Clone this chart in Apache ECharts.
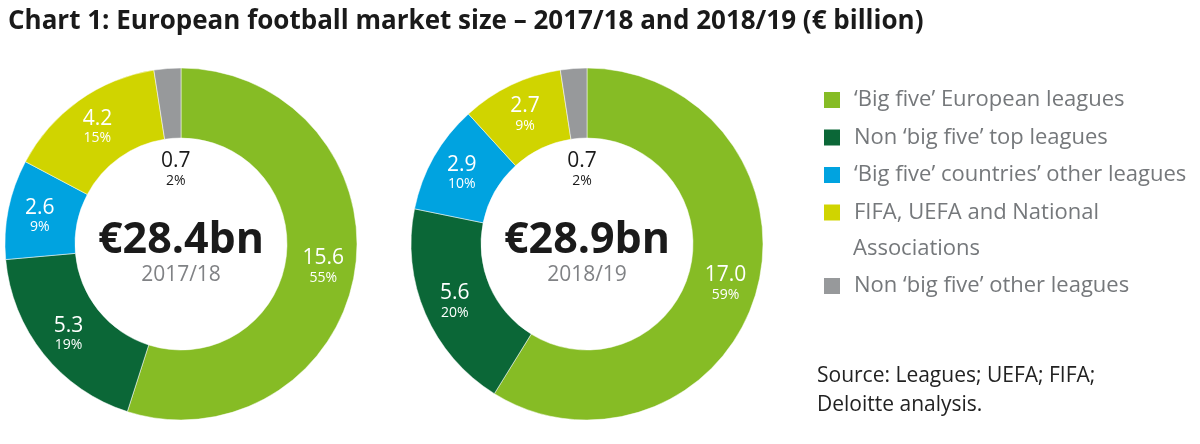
<!DOCTYPE html>
<html>
<head>
<meta charset="utf-8">
<script src="https://cdn.jsdelivr.net/npm/echarts@6/dist/echarts.min.js"></script>
<style>
  html, body { margin: 0; padding: 0; background: #fff; }
  #chart { width: 1200px; height: 444px; }
</style>
</head>
<body>
<div id="chart"></div>
<script>
// chart data
const categories = [
  '\u2018Big five\u2019 European leagues',
  'Non \u2018big five\u2019 top leagues',
  '\u2018Big five\u2019 countries\u2019 other leagues',
  'FIFA, UEFA and National Associations',
  'Non \u2018big five\u2019 other leagues'
];
const seasons = ['2017/18', '2018/19'];
const values1718 = [15.6, 5.3, 2.6, 4.2, 0.7];
const values1819 = [17.0, 5.6, 2.9, 2.7, 0.7];
const pct1718 = [55, 19, 9, 15, 2];
const pct1819 = [59, 20, 10, 9, 2];

const colors = ['#86BC25', '#0B6737', '#00A3E0', '#D0D400', '#97999B'];
const font = '"Open Sans", sans-serif';

const chart = echarts.init(document.getElementById('chart'));

function makeData(vals, pcts) {
  return vals.map((v, i) => {
    const item = { name: categories[i], value: v, pct: pcts[i] };
    if (i === 4) {
      // the small grey slice gets its label inside the hole
      item.label = {
        offset: [6, 69],
        rich: {
          v: { color: '#1a1a1a', fontSize: 21, fontFamily: font, lineHeight: 23 },
          p: { color: '#1a1a1a', fontSize: 14, fontFamily: font, lineHeight: 16 }
        }
      };
    }
    return item;
  });
}

function makeSeries(vals, pcts, cx) {
  return {
    type: 'pie',
    center: [cx, 244],
    radius: [106, 176],
    startAngle: 90,
    clockwise: true,
    avoidLabelOverlap: false,
    silent: true,
    itemStyle: { borderColor: '#fff', borderWidth: 0.5 },
    label: {
      show: true,
      position: 'inside',
      formatter: p => '{v|' + p.value.toFixed(1) + '}\n{p|' + p.data.pct + '%}',
      rich: {
        v: { color: '#fff', fontSize: 21, fontFamily: font, lineHeight: 23 },
        p: { color: '#fff', fontSize: 14, fontFamily: font, lineHeight: 16 }
      }
    },
    labelLine: { show: false },
    data: makeData(vals, pcts)
  };
}

const total = arr => arr.reduce((a, b) => a + b, 0);

function centerText(cx, vals, season) {
  return [
    {
      type: 'text', x: cx, y: 241, z: 10,
      style: {
        text: '\u20ac' + total(vals).toFixed(1) + 'bn',
        align: 'center', verticalAlign: 'middle',
        font: 'bold 43px ' + font, fill: '#1a1a1a'
      }
    },
    {
      type: 'text', x: cx, y: 275, z: 10,
      style: {
        text: season, align: 'center', verticalAlign: 'middle',
        font: '21px ' + font, fill: '#808285'
      }
    }
  ];
}

chart.setOption({
  color: colors,
  animation: false,
  title: {
    text: 'Chart 1: European football market size \u2013 2017/18 and 2018/19 (\u20ac billion)',
    left: 3, top: 4,
    textStyle: { fontFamily: font, fontWeight: 'bold', fontSize: 26, color: '#1a1a1a' }
  },
  legend: [
    {
      orient: 'vertical', left: 817, top: 84,
      itemWidth: 18, itemHeight: 18, itemGap: 15.5,
      icon: 'rect', selectedMode: false,
      data: categories.slice(0, 4),
      formatter: n => n === categories[3] ? 'FIFA, UEFA and National' : n,
      textStyle: { fontFamily: font, fontSize: 22, lineHeight: 22, color: '#75787B', padding: [0, 0, 0, 8] }
    },
    {
      orient: 'vertical', left: 817, top: 270,
      itemWidth: 18, itemHeight: 18,
      icon: 'rect', selectedMode: false,
      data: categories.slice(4),
      textStyle: { fontFamily: font, fontSize: 22, lineHeight: 22, color: '#75787B', padding: [0, 0, 0, 8] }
    }
  ],
  graphic: [
    {
      type: 'text', x: 853, y: 249,
      style: { text: 'Associations', verticalAlign: 'middle', font: '22px ' + font, fill: '#75787B' }
    },
    {
      type: 'text', x: 817, y: 362,
      style: {
        text: 'Source: Leagues; UEFA; FIFA;\nDeloitte analysis.',
        font: '21px ' + font, fill: '#222', lineHeight: 29
      }
    },
    ...centerText(181, values1718, seasons[0]),
    ...centerText(587, values1819, seasons[1])
  ],
  series: [
    makeSeries(values1718, pct1718, 181),
    makeSeries(values1819, pct1819, 587)
  ]
});
</script>
</body>
</html>
